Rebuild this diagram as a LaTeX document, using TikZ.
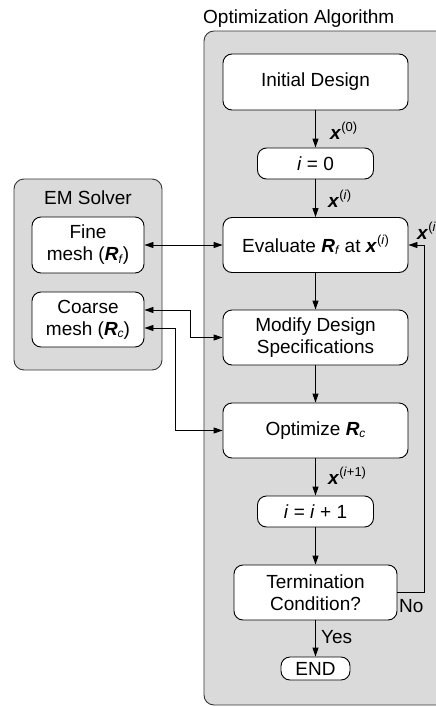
\documentclass[tikz,border=0pt]{standalone}
\usepackage{fontspec}
\setmainfont{Liberation Sans}
\usetikzlibrary{arrows.meta}
\definecolor{panel}{RGB}{218,218,218}
\definecolor{panelline}{RGB}{55,55,55}
% bold italic symbols and small raised / lowered indices
\newcommand\bx{\textbf{\textit{x}}}
\newcommand\bR{\textbf{\textit{R}}}
\newcommand\up[1]{\raisebox{7.5pt}{\fontsize{13}{13}\selectfont #1}}
\newcommand\dn[1]{\raisebox{-2.5pt}{\fontsize{12}{12}\selectfont #1}}
\begin{document}
\begin{tikzpicture}[x=1pt,y=-1pt,
  font=\fontsize{19}{22}\selectfont,
  >={Triangle[length=9pt,width=6pt]},
  panelbox/.style={draw=panelline, fill=panel, rounded corners=10pt, line width=0.9pt},
  stepbox/.style={draw=black, fill=white, rounded corners=9pt, align=center,
                  inner sep=0pt, line width=0.9pt},
  flow/.style={draw=black, line width=0.9pt},
  lbl/.style={inner sep=0pt, anchor=west}]
\path[use as bounding box, clip] (0,0) rectangle (436,707);

% panels
\draw[panelbox] (204,31) rectangle (490,705);
\node[anchor=base west, inner sep=0pt] (optitle) at (203,23) {Optimization Algorithm};
\draw[panelbox] (14,179) rectangle (162,370);
\node[anchor=base, inner sep=0pt] (emtitle) at (88,204) {EM Solver};

% EM solver models
\node[stepbox, minimum width=112pt, minimum height=56pt] (fine) at (88,245)
  {Fine\\mesh (\bR\dn{\textit{f}})};
\node[stepbox, minimum width=112pt, minimum height=55pt] (coarse) at (88,319.5)
  {Coarse\\mesh (\bR\dn{\textit{c}})};

% algorithm steps
\node[stepbox, minimum width=185pt, minimum height=56pt] (init) at (315.5,82) {Initial Design};
\node[stepbox, minimum width=116pt, minimum height=31pt] (i0) at (315.5,163.5) {\textit{i} = 0};
\node[stepbox, minimum width=185pt, minimum height=55pt] (eval) at (315.5,245)
  {Evaluate \bR\dn{\textit{f}} at \bx\up{(\textit{i})}};
\node[stepbox, minimum width=185pt, minimum height=55pt] (modify) at (315.5,337.5)
  {Modify Design\\Specifications};
\node[stepbox, minimum width=185pt, minimum height=55pt] (optimize) at (315.5,430.5)
  {Optimize \bR\dn{\textit{c}}};
\node[stepbox, minimum width=116pt, minimum height=31pt] (inc) at (315.5,511.5)
  {\textit{i} = \textit{i} + 1};
\node[stepbox, minimum width=163pt, minimum height=55pt] (term) at (315.5,592.5)
  {Termination\\Condition?};
\node[stepbox, minimum width=69pt, minimum height=23pt] (endn) at (315.5,668.5) {END};

% main flow
\draw[flow,->] (init) -- (i0);
\draw[flow,->] (i0) -- (eval);
\draw[flow,->] (eval) -- (modify);
\draw[flow,->] (modify) -- (optimize);
\draw[flow,->] (optimize) -- (inc);
\draw[flow,->] (inc) -- (term);
\draw[flow,->] (term) -- (endn);
\draw[flow,->] (term.east) -- ++(27,0) |- (eval.east);

% model exchanges
\draw[flow,<->] (fine) -- (eval);
\draw[flow,<->] ([yshift=9.5pt]coarse.east) -- ++(46,0) |- (modify.west);
\draw[flow,<->] ([yshift=-8.5pt]coarse.east) -- ++(31,0) |- (optimize.west);

% flow labels
\node[lbl] (lx0) at (330,131) {\bx\up{(0)}};
\node[lbl] (lxi) at (328,199) {\bx\up{(\textit{i})}};
\node[lbl] (lxi1) at (328,476) {\bx\up{(\textit{i}+1)}};
\node[lbl] (lxr) at (417,231) {\bx\up{(\textit{i})}};
\node[lbl] (lno) at (399,606) {No};
\node[lbl] (lyes) at (321,637) {Yes};
\end{tikzpicture}
\end{document}
